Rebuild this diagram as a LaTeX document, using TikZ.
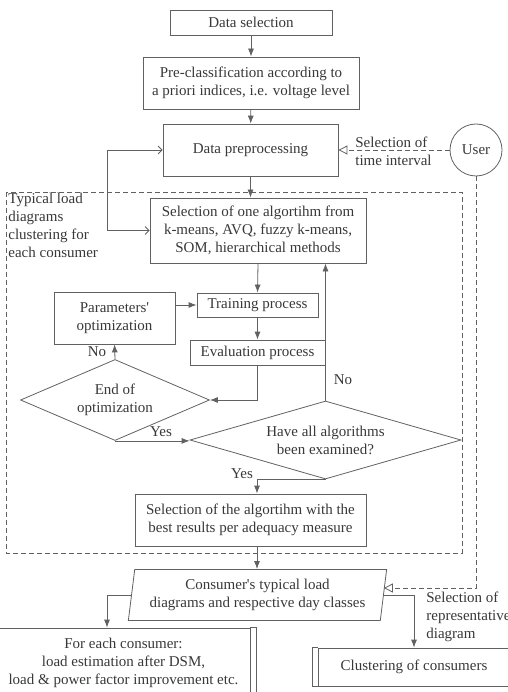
\documentclass[tikz,border=0pt]{standalone}
\usepackage{fontspec}
\setmainfont{Liberation Serif}
\usetikzlibrary{arrows.meta,shapes.geometric}
\definecolor{lc}{gray}{0.38}
\definecolor{tc}{gray}{0.22}

\begin{document}
\begin{tikzpicture}[x=1pt,y=-1pt,line width=0.8pt,
  font=\fontsize{15}{18}\selectfont,
  box/.style={draw=lc,text=tc,align=center,inner sep=0pt},
  dbox/.style={diamond,draw=lc,text=tc,align=center,inner sep=0pt},
  arr/.style={draw=lc,-{Latex[length=8pt,width=6pt]}},
  barb/.style={draw=lc,{Straight Barb[length=4pt,width=8pt]}-{Straight Barb[length=4pt,width=8pt]}},
  uarr/.style={draw=lc,dash pattern=on 5pt off 3pt,-{Triangle[open,length=9pt,width=9pt]}},
  lbl/.style={text=tc,inner sep=0pt,align=left}]
  \useasboundingbox (0,0) rectangle (507,692);
  % upper chain of boxes
  \node[box,minimum width=162,minimum height=25] (dsel) at (251,22.5) {Data selection};
  \node[box,minimum width=216,minimum height=52] (precl) at (251,83)
    {Pre-classification according to\\a priori indices, i.e. voltage level};
  \node[box,minimum width=175,minimum height=52] (prep) at (250.5,150) {Data preprocessing};
  \node[circle,draw=lc,text=tc,minimum size=52,inner sep=0pt] (user) at (476,150) {User};
  \node[lbl,fill=white] (tint) at (355,151) [anchor=west] {Selection of\\time interval};

  % per-consumer clustering loop
  \draw[draw=lc,dash pattern=on 5pt off 3pt] (6,192) rectangle (462,553);
  \node[lbl,anchor=north west] (tlab) at (8,193)
    {Typical load\\diagrams\\clustering for\\each consumer};
  \node[box,minimum width=216,minimum height=65] (alg) at (258,230.5)
    {Selection of one algortihm from\\k-means, AVQ, fuzzy k-means,\\SOM, hierarchical methods};
  \node[box,minimum width=121,minimum height=24] (train) at (257.5,305) {Training process};
  \node[box,minimum width=121,minimum height=52] (params) at (114.5,318)
    {Parameters\textquotesingle\\optimization};
  \node[box,minimum width=135,minimum height=25] (eval) at (257.5,352.5) {Evaluation process};
  \node[dbox,shape aspect=2.33,minimum width=189,minimum height=81] (eopt) at (115,400)
    {End of\\optimization};
  \node[dbox,shape aspect=3.47,minimum width=271,minimum height=78] (haex) at (325.5,440)
    {Have all algorithms\\been examined?};
  \node[box,minimum width=231,minimum height=52] (best) at (250.5,520)
    {Selection of the algortihm with the\\best results per adequacy measure};
  \coordinate (vx) at (257,0);

  % results
  \node[trapezium,trapezium left angle=80,trapezium right angle=100,trapezium stretches=true,
        draw=lc,text=tc,align=center,inner sep=0pt,minimum width=259,minimum height=51]
    (cons) at (257.5,595) {Consumer\textquotesingle s typical load\\diagrams and respective day classes};
  \node[box,minimum width=253,minimum height=70] (estm) at (123.5,663)
    {For each consumer:\\load estimation after DSM,\\load \& power factor improvement etc.};
  \draw[draw=lc] (estm.north east) -- ++(6,0) |- (estm.south east);
  \node[box,minimum width=192,minimum height=38] (clus) at (414,667) {Clustering of consumers};
  \draw[draw=lc] (clus.north west) -- ++(-5,0) |- (clus.south west);
  \node[lbl,anchor=west] (rlab) at (426,617) {Selection of\\representative\\diagram};

  % connectors
  \draw[arr] (dsel) -- (precl);
  \draw[arr] (precl) -- (prep);
  \draw[arr] (prep.south) -- (prep.south |- alg.north);
  \draw[barb] (prep.west) -- ++(-55,0) |- (alg.west);
  \draw[uarr] (user.west) -- (prep.east);
  \draw[uarr] (user.south) |- ([yshift=7pt]cons.east);
  \draw[arr] (alg.south) -- (train.north);
  \draw[arr] (params.east |- train.west) -- (train.west);
  \draw[arr] (train) -- (eval);
  \draw[arr] (eval.south) |- (eopt.east);
  \draw[arr] (eopt.north) -- (params.south);
  \node[lbl] (no1) at (97,352) {No};
  \draw[arr] (eopt.south) -- (eopt.south -| haex.west);
  \node[lbl] (yes1) at (161,432) {Yes};
  \draw[arr] (haex.north) -- (haex.north |- alg.south);
  \node[lbl] (no2) at (343,380) {No};
  \draw[arr] (haex.south) -| (vx |- best.north);
  \node[lbl] (yes2) at (242,474) {Yes};
  \draw[arr] (vx |- best.south) -- (vx |- cons.north);
  \coordinate (lx) at (107,0);
  \draw[arr] (cons.west) -| (lx |- estm.north);
  \draw[arr] (cons.east) -| (clus.north);
\end{tikzpicture}
\end{document}
